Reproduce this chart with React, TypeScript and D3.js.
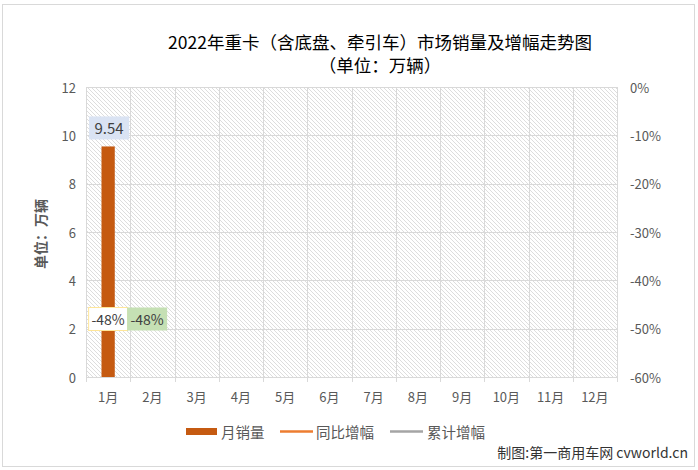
import React from "react";
import * as d3 from "d3";

const months = ["1月", "2月", "3月", "4月", "5月", "6月", "7月", "8月", "9月", "10月", "11月", "12月"];
const monthlySales = [9.54];
const yoyGrowth = [-0.48];
const cumGrowth = [-0.48];
const leftTicks = [0, 2, 4, 6, 8, 10, 12];
const rightTicks = [0, -0.1, -0.2, -0.3, -0.4, -0.5, -0.6];
const titleLines = ["2022年重卡（含底盘、牵引车）市场销量及增幅走势图", "（单位：万辆）"];
const legendItems = ["月销量", "同比增幅", "累计增幅"];

const W = 698;
const H = 470;
const plot = { left: 86, right: 617, top: 87, bottom: 377 };
const FONT = "'Noto Sans CJK SC', 'Noto Sans', sans-serif";
const BAR = "#C55A11";
const ORANGE = "#ED7D31";
const GRAY = "#A5A5A5";
const TXT = "#595959";

export default function App() {
  const x = d3.scaleBand<string>().domain(months).range([plot.left, plot.right]).paddingInner(0).paddingOuter(0);
  const bw = x.bandwidth();
  const barW = bw * 0.3;
  const yL = d3.scaleLinear().domain([0, 12]).range([plot.bottom, plot.top]);
  const yR = d3.scaleLinear().domain([-0.6, 0]).range([plot.bottom, plot.top]);
  const f = d3.format(".0%");
  const pct = (v: number) => f(v).replace("\u2212", "-");
  const boundaries = d3.range(months.length + 1).map((i) => plot.left + i * bw);

  return (
    <svg width={W} height={H} style={{ position: "absolute", left: 0, top: 0, fontFamily: FONT }}>
      <defs>
        <pattern id="hatch" width="4" height="4" patternUnits="userSpaceOnUse">
          <rect width="4" height="4" fill="#ffffff" />
          <path d="M-1,-1 L5,5 M-1,3 L1,5 M3,-1 L5,1" stroke="#cfcfcf" strokeWidth="0.7" />
        </pattern>
      </defs>
      <rect x={0} y={0} width={W} height={H} fill="#ffffff" />
      <rect x={2.5} y={4.5} width={692} height={462} fill="none" stroke="#d9d9d9" />

      {titleLines.map((t, i) => (
        <text key={i} x={380} y={41 + i * 23} textAnchor="middle" dominantBaseline="central" fontSize={17.5} fill="#000">
          {t}
        </text>
      ))}

      <rect x={plot.left} y={plot.top} width={plot.right - plot.left} height={plot.bottom - plot.top} fill="url(#hatch)" />
      {leftTicks.map((t) => (
        <line key={"h" + t} x1={plot.left} x2={plot.right} y1={Math.round(yL(t)) + 0.5} y2={Math.round(yL(t)) + 0.5} stroke="#d9d9d9" />
      ))}
      {boundaries.map((b, i) => (
        <line key={"v" + i} x1={Math.round(b) + 0.5} x2={Math.round(b) + 0.5} y1={plot.top} y2={plot.bottom + 5} stroke="#d9d9d9" />
      ))}

      {leftTicks.map((t) => (
        <text key={"l" + t} x={76} y={yL(t)} textAnchor="end" dominantBaseline="central" fontSize={13} fill={TXT}>
          {t}
        </text>
      ))}
      {rightTicks.map((t) => (
        <text key={"r" + t} x={630} y={yR(t)} textAnchor="start" dominantBaseline="central" fontSize={13} fill={TXT}>
          {pct(t)}
        </text>
      ))}
      {months.map((m) => (
        <text key={m} x={(x(m) as number) + bw / 2} y={396} textAnchor="middle" dominantBaseline="central" fontSize={13} fill={TXT}>
          {m}
        </text>
      ))}

      <text
        x={40}
        y={234}
        transform="rotate(-90 40 234)"
        textAnchor="middle"
        dominantBaseline="central"
        fontSize={14}
        fontWeight="bold"
        fill={TXT}
      >
        单位：万辆
      </text>

      {monthlySales.map((v, i) => {
        const cx = (x(months[i]) as number) + bw / 2;
        const top = yL(v);
        return (
          <g key={"b" + i}>
            <rect x={cx - barW / 2} y={top} width={barW} height={yL(0) - top} fill={BAR} />
            <rect x={cx - 19} y={top - 30} width={40} height={23} fill="#dae3f3" />
            <text x={cx + 1} y={top - 18.5} textAnchor="middle" dominantBaseline="central" fontSize={15} fill="#404040">
              {v.toFixed(2)}
            </text>
          </g>
        );
      })}

      {yoyGrowth.map((v, i) => {
        const cx = (x(months[i]) as number) + bw / 2;
        const cy = yR(v);
        return (
          <g key={"y" + i}>
            <rect x={cx - 19.5} y={cy - 11.5} width={39} height={23} fill="#ffffff" stroke="#ffe699" />
            <text x={cx} y={cy} textAnchor="middle" dominantBaseline="central" fontSize={14} fill="#404040">
              {pct(v)}
            </text>
          </g>
        );
      })}
      {cumGrowth.map((v, i) => {
        const cx = (x(months[i]) as number) + bw / 2 + 39;
        const cy = yR(v);
        return (
          <g key={"c" + i}>
            <rect x={cx - 20} y={cy - 11.5} width={40} height={23} fill="#c5e0b4" />
            <text x={cx} y={cy} textAnchor="middle" dominantBaseline="central" fontSize={14} fill="#404040">
              {pct(v)}
            </text>
          </g>
        );
      })}

      <g>
        <rect x={186} y={428} width={31} height={7} fill={BAR} />
        <text x={221} y={431.5} dominantBaseline="central" fontSize={14.5} fill={TXT}>{legendItems[0]}</text>
        <line x1={280} x2={313} y1={431.5} y2={431.5} stroke={ORANGE} strokeWidth={2.5} />
        <text x={316} y={431.5} dominantBaseline="central" fontSize={14.5} fill={TXT}>{legendItems[1]}</text>
        <line x1={390} x2={423} y1={431.5} y2={431.5} stroke={GRAY} strokeWidth={2.5} />
        <text x={427} y={431.5} dominantBaseline="central" fontSize={14.5} fill={TXT}>{legendItems[2]}</text>
      </g>

      <text x={688} y={452} textAnchor="end" dominantBaseline="central" fontSize={14} fill="#333333">
        制图:第一商用车网 cvworld.cn
      </text>
    </svg>
  );
}
